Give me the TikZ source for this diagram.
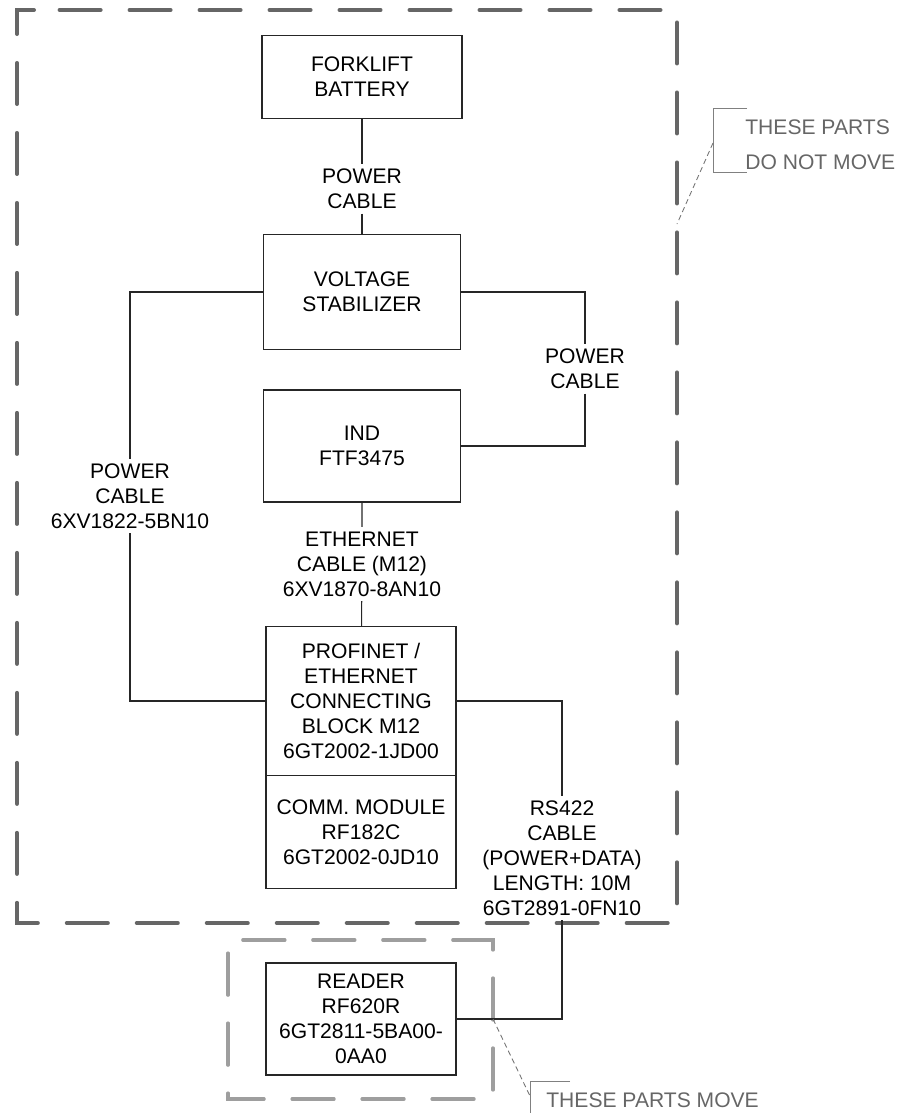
\documentclass[tikz,border=0pt]{standalone}
\usepackage{fontspec}
\setmainfont{Liberation Sans}
\usepackage{tikz}

\begin{document}
\begin{tikzpicture}[x=0.02cm, y=-0.02cm,
  part/.style={draw=black!85, line width=0.6pt, align=center, inner sep=2pt,
    font=\fontsize{12pt}{14.2pt}\selectfont},
  cable/.style={align=center, inner sep=2.5pt, font=\fontsize{12pt}{14.2pt}\selectfont},
  wire/.style={draw=black!85, line width=0.6pt},
  fixedframe/.style={draw=black!60, line width=2.3pt, line cap=round, dash pattern=on 0.82cm off 0.58cm},
  moveframe/.style={draw=black!38, line width=1.9pt, line cap=round, dash pattern=on 0.84cm off 0.56cm},
  note/.style={text=black!60, align=left, anchor=west, inner sep=0pt, font=\fontsize{12pt}{20pt}\selectfont},
  bracket/.style={draw=black!50, line width=0.5pt},
  leader/.style={draw=black!55, line width=0.5pt, densely dashed}]

  \useasboundingbox (0,0) rectangle (899,1113);
  \clip (0,0) rectangle (899,1113);

  % Dashed frames
  \draw[fixedframe] (34,10) -- (17,10) -- (17,923) -- (677,923) -- (677,10) -- cycle;
  \draw[moveframe] (461,940) -- (493,940) -- (493,1099) -- (228,1099) -- (228,940) -- cycle;

  % Parts that do not move
  \node[part, minimum width=4cm, minimum height=1.66cm] (batt) at (362,77) {FORKLIFT\\BATTERY};
  \node[part, minimum width=3.95cm, minimum height=2.3cm] (stab) at (362,292) {VOLTAGE\\STABILIZER};
  \node[part, minimum width=3.95cm, minimum height=2.24cm] (ind) at (362,446) {IND\\FTF3475};
  \node[part, minimum width=3.8cm, minimum height=2.98cm] (prof) at (361,701)
    {PROFINET /\\ETHERNET\\CONNECTING\\BLOCK M12\\6GT2002-1JD00};
  \node[part, minimum width=3.8cm, minimum height=2.26cm] (comm) at (361,832)
    {COMM. MODULE\\RF182C\\6GT2002-0JD10};

  % Part that moves
  \node[part, minimum width=3.8cm, minimum height=2.24cm] (reader) at (361,1019)
    {READER\\RF620R\\6GT2811-5BA00-\\0AA0};

  % Cable labels
  \node[cable] (pc1) at (362,189) {POWER\\CABLE};
  \node[cable] (pc2) at (130,496) {POWER\\CABLE\\6XV1822-5BN10};
  \node[cable] (pc3) at (585,369) {POWER\\CABLE};
  \node[cable] (eth) at (362,564) {ETHERNET\\CABLE (M12)\\6XV1870-8AN10};
  \node[cable] (rs) at (562,858) {RS422\\CABLE\\(POWER+DATA)\\LENGTH: 10M\\6GT2891-0FN10};

  % Cables
  \draw[wire] (batt) -- (pc1) -- (stab);
  \draw[wire] (stab) -| (pc2) |- (prof);
  \draw[wire] (stab) -| (pc3) |- (ind);
  \draw[wire] (ind) -- (eth) -- (prof);
  \draw[wire] (prof) -| (rs) |- (reader);

  % Callouts
  \node[note] (fixnote) at (745,145) {THESE PARTS\\DO NOT MOVE};
  \coordinate (fixbr) at (713,143);
  \coordinate (fixtip) at (677,224);
  \draw[bracket] (747,108) -- (713,108) -- (713,172) -- (747,172);
  \draw[leader] (fixbr) -- (fixtip);

  \node[note] (movenote) at (546,1100) {THESE PARTS MOVE};
  \coordinate (movebr) at (530,1096);
  \coordinate (movetip) at (493,1019);
  \draw[bracket] (570,1081) -- (530,1081) -- (530,1120);
  \draw[leader] (movetip) -- (movebr);

\end{tikzpicture}
\end{document}
